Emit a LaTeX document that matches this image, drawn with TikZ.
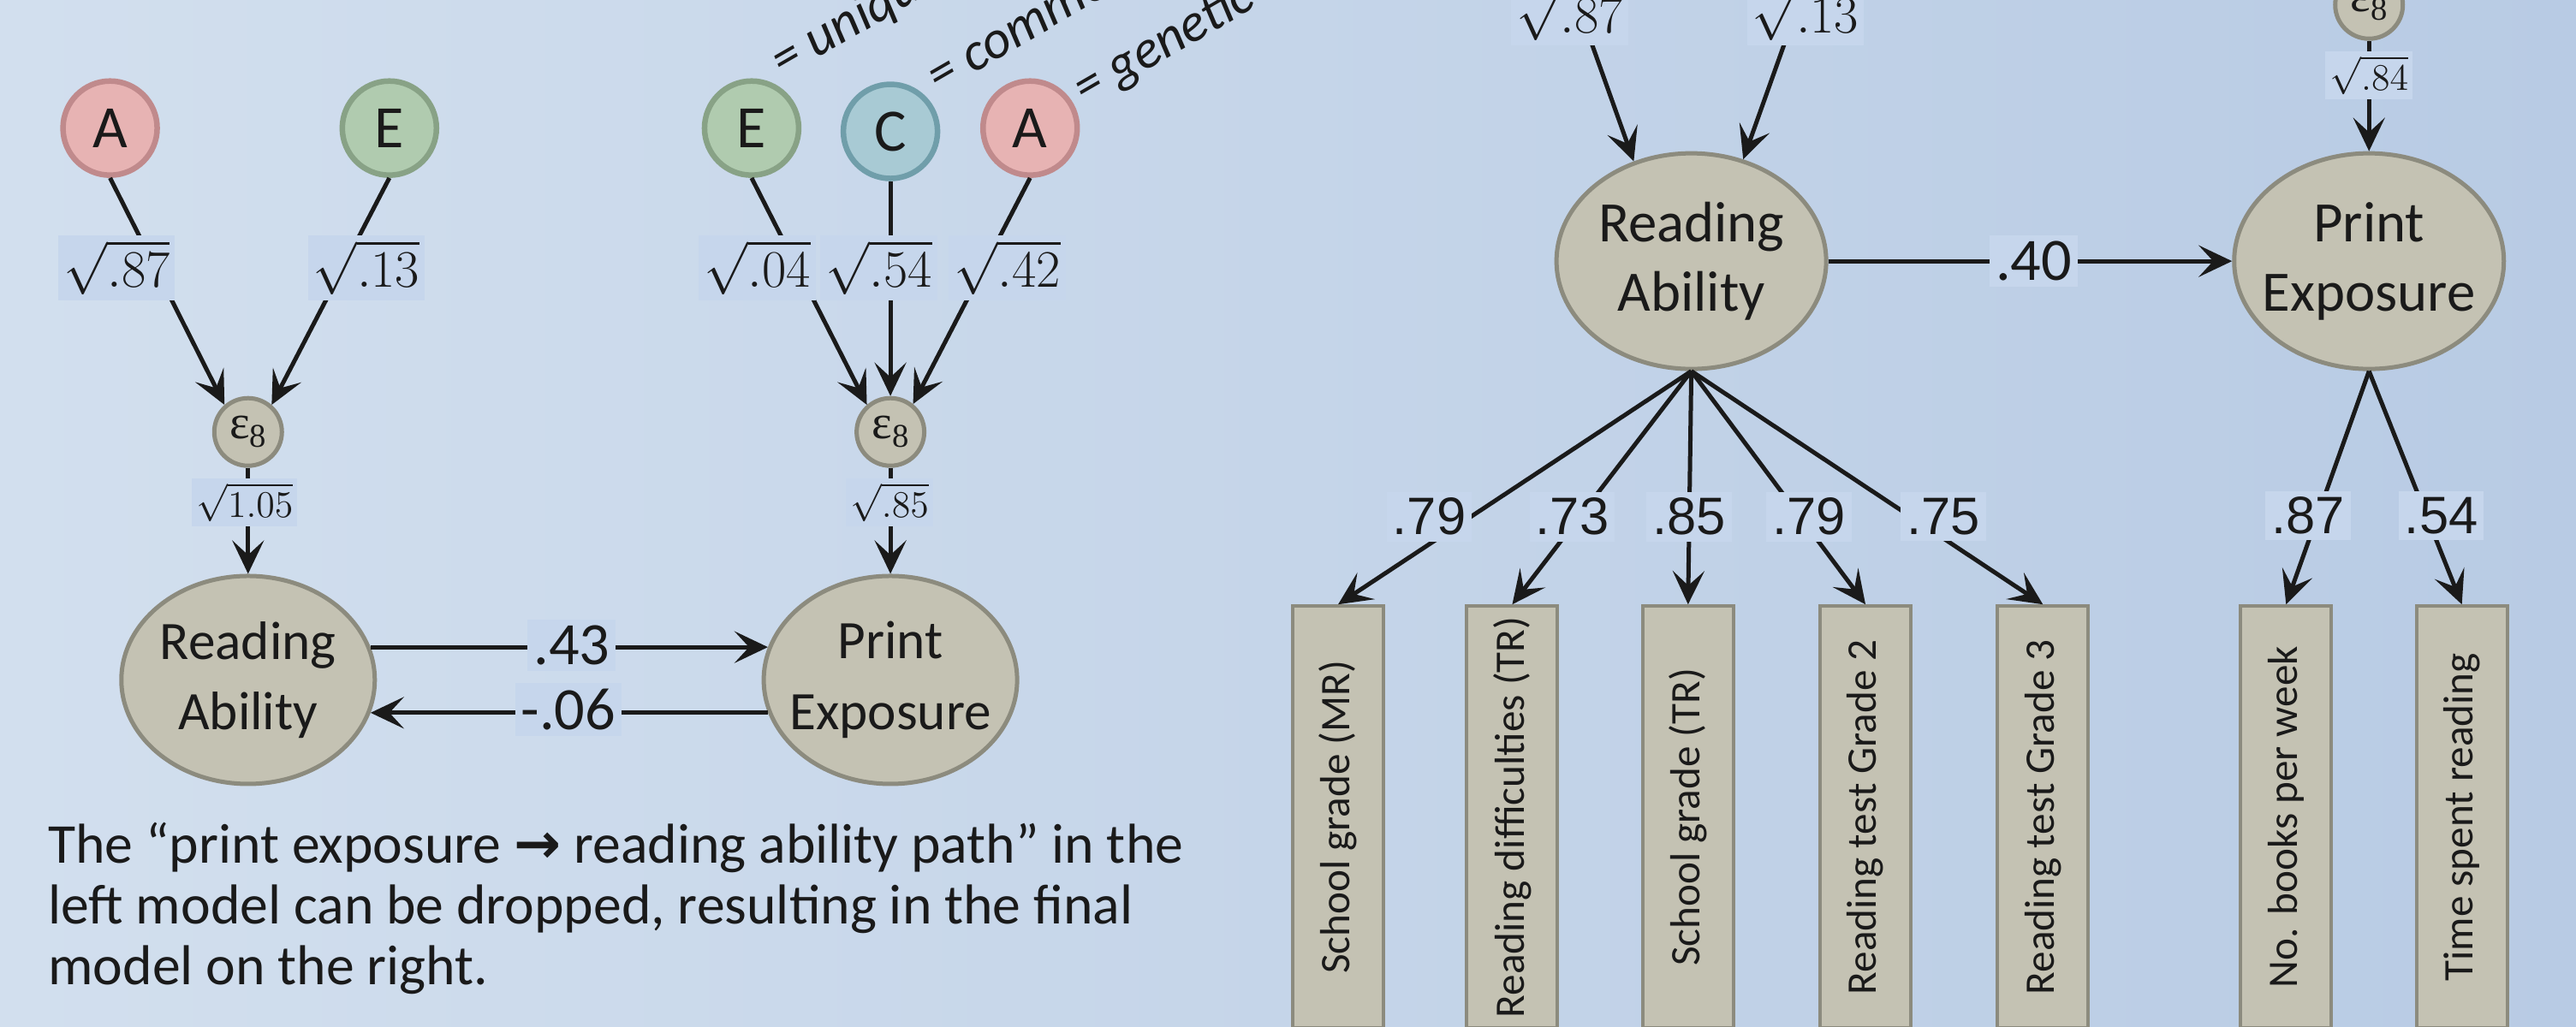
\RequirePackage{fix-cm}
\documentclass[tikz,border=0pt]{standalone}
\usepackage{fontspec}
\usepackage{graphicx}
\usetikzlibrary{shapes.geometric,arrows.meta}
\newfontfamily\carl{Carlito}
\newfontfamily\lsans{Liberation Sans}
\newfontfamily\lserif{Liberation Serif}
\newfontfamily\djv{DejaVu Sans}

\definecolor{bgL}{RGB}{210,223,238}
\definecolor{bgR}{RGB}{184,203,228}
\definecolor{khaki}{RGB}{196,194,179}
\definecolor{khakiD}{RGB}{140,139,126}
\definecolor{pinkF}{RGB}{231,179,179}
\definecolor{pinkD}{RGB}{192,138,140}
\definecolor{greenF}{RGB}{176,203,175}
\definecolor{greenD}{RGB}{136,162,134}
\definecolor{tealF}{RGB}{168,202,212}
\definecolor{tealD}{RGB}{112,158,170}
\definecolor{lblbg}{RGB}{198,214,236}
\definecolor{ink}{RGB}{26,26,26}

% residual symbol: upright epsilon with subscript 8
\newcommand{\epsres}{{\lserif\fontsize{16}{18}\selectfont ε\raisebox{-0.4ex}{\fontsize{11}{12}\selectfont 8}}}

\tikzset{
  factor/.style={circle, minimum size=11mm, inner sep=0pt, line width=0.65mm,
    text=ink, font=\carl\fontsize{20}{24}\selectfont},
  Afac/.style={factor, fill=pinkF, draw=pinkD},
  Efac/.style={factor, fill=greenF, draw=greenD},
  Cfac/.style={factor, fill=tealF, draw=tealD},
  resid/.style={circle, minimum size=7.9mm, inner sep=0pt, fill=khaki, draw=khakiD,
    line width=0.5mm, text=ink},
  latL/.style={ellipse, minimum width=29.6mm, minimum height=24.3mm,
    inner xsep=-4mm, inner ysep=0pt,
    fill=khaki, draw=khakiD, line width=0.5mm, align=center, text=ink,
    font=\carl\fontsize{18}{23.5}\selectfont},
  latR/.style={latL, minimum width=31.5mm, minimum height=25.2mm,
    font=\carl\fontsize{19}{23}\selectfont},
  obs/.style={rectangle, minimum width=10.6mm, minimum height=49.3mm, anchor=north,
    inner sep=0pt, fill=khaki, draw=khakiD, line width=0.4mm, text=ink,
    font=\carl\fontsize{14}{16}\selectfont},
  pathway/.style={line width=0.5mm, draw=ink,
    -{Stealth[length=3.9mm,width=3.7mm,inset=1.7mm]}},
  sq/.style={fill=lblbg, inner sep=0.6mm, text=ink, font=\fontsize{17.5}{20}\selectfont},
  sqs/.style={sq, inner sep=0.5mm, font=\fontsize{12.5}{15}\selectfont},
  coef/.style={fill=lblbg, inner sep=0.7mm, text=ink, font=\carl\fontsize{20}{24}\selectfont},
  load/.style={fill=lblbg, inner sep=0.7mm, text=ink, font=\lsans\fontsize{17.5}{20}\selectfont},
  note/.style={anchor=base west, inner sep=0pt, text=ink, font=\carl\fontsize{18.7}{20}\selectfont},
  keytext/.style={anchor=base west, inner sep=0pt, rotate=30, text=ink,
    font=\carl\itshape\fontsize{18}{20}\selectfont}
}

\begin{document}
\begin{tikzpicture}[x=0.1919mm, y=-0.1919mm]
\useasboundingbox (0,0) rectangle (1568,625);
\clip (0,0) rectangle (1568,625);
\shade[left color=bgL, right color=bgR] (0,0) rectangle (1568,625);

% ---------- left: AE model with reciprocal paths ----------
\node[Afac] (LA) at (67,78) {A};
\node[Efac] (LE) at (237,78) {E};
\node[resid] (Le) at (151,263) {\epsres};
\node[latL] (LRA) at (151,414) {Reading\\Ability};

% ---------- ACE model for print exposure ----------
\node[Efac] (ME) at (457.5,78) {E};
\node[Cfac] (MC) at (542,80) {C};
\node[Afac] (MA) at (627,78) {A};
\node[resid] (Me) at (542,263) {\epsres};
\node[latL] (LPE) at (542,414) {Print\\Exposure};

\draw[pathway] (LA.south) -- (Le.131);
\draw[pathway] (LE.south) -- (Le.49);
\draw[pathway] (Le.south) -- (LRA.north);
\draw[pathway] (ME.south) -- (Me.131);
\draw[pathway] (MC.south) -- (Me.north);
\draw[pathway] (MA.south) -- (Me.51);
\draw[pathway] (Me.south) -- (LPE.north);
\draw[pathway] (LRA.15) -- (LPE.165);
\draw[pathway] (LPE.195) -- (LRA.-15);

\node[sq] (lA) at (71,163) {$\sqrt{.87}$};
\node[sq] (lE) at (223,163) {$\sqrt{.13}$};
\node[sqs] (le) at (149,306) {$\sqrt{1.05}$};
\node[sq] (mE) at (461,163) {$\sqrt{.04}$};
\node[sq] (mC) at (535,163) {$\sqrt{.54}$};
\node[sq] (mA) at (613,163) {$\sqrt{.42}$};
\node[sqs] (me) at (541.5,306) {$\sqrt{.85}$};
\node[coef] (c43) at (348,393) {.43};
\node[coef] (c06) at (346,432) {-.06};

\node[keytext] (kE) at (476,48) {= unique};
\node[keytext] (kC) at (571,57) {= common};
\node[keytext] (kA) at (660,64.6) {= genetic};

\node[note] (n1) at (29,525.5) {The “print exposure {\djv\bfseries →} reading ability path” in the};
\node[note] (n2) at (29,562.5) {left model can be dropped, resulting in the final};
\node[note] (n3) at (29,599.5) {model on the right.};

% ---------- right: final model ----------
\node[latR] (RRA) at (1029.5,159) {Reading\\Ability};
\node[latR] (RPE) at (1442,159) {Print\\Exposure};
\node[resid] (Re) at (1442,3) {\epsres};
\coordinate (RinA) at (938,-60);
\coordinate (RinE) at (1117,-60);

\node[obs] (O1) at (814.5,368) {\rotatebox{90}{School grade (MR)}};
\node[obs] (O2) at (920.5,368) {\rotatebox{90}{Reading difficulties (TR)}};
\node[obs] (O3) at (1027.5,368) {\rotatebox{90}{School grade (TR)}};
\node[obs] (O4) at (1135.5,368) {\rotatebox{90}{Reading test Grade 2}};
\node[obs] (O5) at (1243.5,368) {\rotatebox{90}{Reading test Grade 3}};
\node[obs] (O6) at (1391.5,368) {\rotatebox{90}{No. books per week}};
\node[obs] (O7) at (1498.5,368) {\rotatebox{90}{Time spent reading}};

\draw[pathway] (RinA) -- (RRA.120);
\draw[pathway] (RinE) -- (RRA.63);
\draw[pathway] (Re.south) -- (RPE.north);
\draw[pathway] (RRA.east) -- (RPE.west);
\foreach \o in {O1,O2,O3,O4,O5} \draw[pathway] (RRA.south) -- (\o.north);
\foreach \o in {O6,O7} \draw[pathway] (RPE.south) -- (\o.north);

\node[sq] (rA) at (955.5,8) {$\sqrt{.87}$};
\node[sq] (rE) at (1099,8) {$\sqrt{.13}$};
\node[sqs] (re) at (1442,46) {$\sqrt{.84}$};
\node[coef] (c40) at (1238,159) {.40};
\node[load] (f1) at (870,314.6) {.79};
\node[load] (f2) at (957,314.6) {.73};
\node[load] (f3) at (1028,314.6) {.85};
\node[load] (f4) at (1101,314.6) {.79};
\node[load] (f5) at (1183,314.6) {.75};
\node[load] (f6) at (1405,314) {.87};
\node[load] (f7) at (1486,314) {.54};
\end{tikzpicture}
\end{document}
